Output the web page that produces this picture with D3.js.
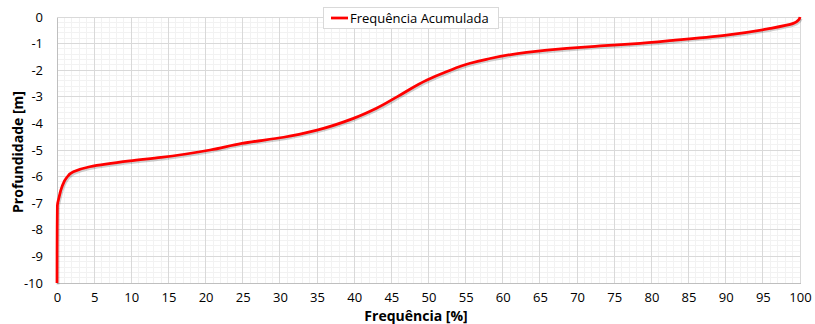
<!DOCTYPE html>
<html>
<head>
<meta charset="utf-8">
<script src="https://cdn.jsdelivr.net/npm/d3@7"></script>
<style>
  body { margin: 0; background: #fff; }
  text { font-family: "Open Sans", sans-serif; fill: #000; }
</style>
</head>
<body>
<div id="chart"></div>
<script>
// frequency [%] vs depth [m]
const freq = [0, 0.02, 0.05, 0.3, 0.67, 1.3, 2.2, 4.4, 9.8, 14, 20.6, 24.9, 30.5, 35,
  39.9, 43, 46.2, 49.8, 52.4, 55.6, 57.8, 63.2, 68.6, 73.1, 78.5, 82.9, 90.1, 96, 99.1, 99.8, 100];
const depth = [-10, -8, -7.1, -6.75, -6.38, -6.04, -5.82, -5.63, -5.41, -5.28, -5.0, -4.75, -4.52, -4.25,
  -3.81, -3.43, -2.93, -2.37, -2.06, -1.74, -1.59, -1.33, -1.18, -1.09, -0.99, -0.88, -0.68, -0.43, -0.24, -0.11, 0];
const xTicks = [0, 5, 10, 15, 20, 25, 30, 35, 40, 45, 50, 55, 60, 65, 70, 75, 80, 85, 90, 95, 100];
const yTicks = [0, -1, -2, -3, -4, -5, -6, -7, -8, -9, -10];
const seriesName = "Frequência Acumulada";

const W = 815, H = 324;
const padL = 57, padR = 800, padT = 17, padB = 283;

const svg = d3.select("#chart").append("svg")
  .attr("width", W)
  .attr("height", H);

const x = d3.scaleLinear().domain([0, 100]).range([padL, padR]);
const y = d3.scaleLinear().domain([-10, 0]).range([padB, padT]);

//minor grid
const g = svg.append("g").attr("shape-rendering", "crispEdges");
g.selectAll(".vmin").data(d3.range(0, 101, 1)).enter().append("line")
  .attr("x1", d => x(d)).attr("x2", d => x(d))
  .attr("y1", padT).attr("y2", padB)
  .attr("stroke", "#f2f2f2");
g.selectAll(".hmin").data(d3.range(-50, 1).map(d => d / 5)).enter().append("line")
  .attr("x1", padL).attr("x2", padR)
  .attr("y1", d => y(d)).attr("y2", d => y(d))
  .attr("stroke", "#f2f2f2");
//major grid
g.selectAll(".vmaj").data(xTicks).enter().append("line")
  .attr("x1", d => x(d)).attr("x2", d => x(d))
  .attr("y1", padT).attr("y2", padB)
  .attr("stroke", "#d9d9d9");
g.selectAll(".hmaj").data(yTicks).enter().append("line")
  .attr("x1", padL).attr("x2", padR)
  .attr("y1", d => y(d)).attr("y2", d => y(d))
  .attr("stroke", "#d9d9d9");

//axes
const xAxis = d3.axisBottom(x).tickValues(xTicks).tickSize(0).tickPadding(10).tickFormat(d => String(d));
const yAxis = d3.axisLeft(y).tickValues(yTicks).tickSize(0).tickPadding(14).tickFormat(d => String(d));
const gx = svg.append("g").attr("transform", "translate(0," + padB + ")").call(xAxis);
const gy = svg.append("g").attr("transform", "translate(" + padL + ",0)").call(yAxis);
[gx, gy].forEach(a => {
  a.select(".domain").attr("stroke", "#bfbfbf").attr("shape-rendering", "crispEdges");
  a.selectAll("text").style("font-size", "13px").style("font-family", "Open Sans");
});

//line
const pts = freq.map((f, i) => [f, depth[i]]);
const line = d3.line()
  .x(d => x(d[0]))
  .y(d => y(d[1]))
  .curve(d3.curveMonotoneY);
const sorted = pts.slice().sort((a, b) => a[1] - b[1]);
svg.append("path")
  .attr("d", line(sorted))
  .attr("fill", "none")
  .attr("stroke", "rgba(0,0,0,0.18)")
  .attr("stroke-width", 3)
  .attr("transform", "translate(1,1.5)");
svg.append("path")
  .attr("d", line(sorted))
  .attr("fill", "none")
  .attr("stroke", "#ff0000")
  .attr("stroke-width", 2.75)
  .attr("stroke-linejoin", "round");

//titles
svg.append("text")
  .attr("x", 416)
  .attr("y", 321)
  .attr("text-anchor", "middle")
  .style("font-size", "14px")
  .style("font-weight", "bold")
  .text("Frequência [%]");
svg.append("text")
  .attr("transform", "translate(23," + ((padT + padB) / 2 + 2) + ") rotate(-90)")
  .attr("text-anchor", "middle")
  .style("font-size", "14px")
  .style("font-weight", "bold")
  .text("Profundidade [m]");

//legend
const legend = svg.append("g").attr("transform", "translate(323,7)");
legend.append("rect")
  .attr("width", 175).attr("height", 21)
  .attr("fill", "#fff")
  .attr("stroke", "#d9d9d9")
  .attr("shape-rendering", "crispEdges");
legend.append("line")
  .attr("x1", 8).attr("x2", 25)
  .attr("y1", 11).attr("y2", 11)
  .attr("stroke", "#ff0000")
  .attr("stroke-width", 2.75);
legend.append("text")
  .attr("x", 27).attr("y", 15.5)
  .style("font-size", "13px")
  .text(seriesName);
</script>
</body>
</html>
